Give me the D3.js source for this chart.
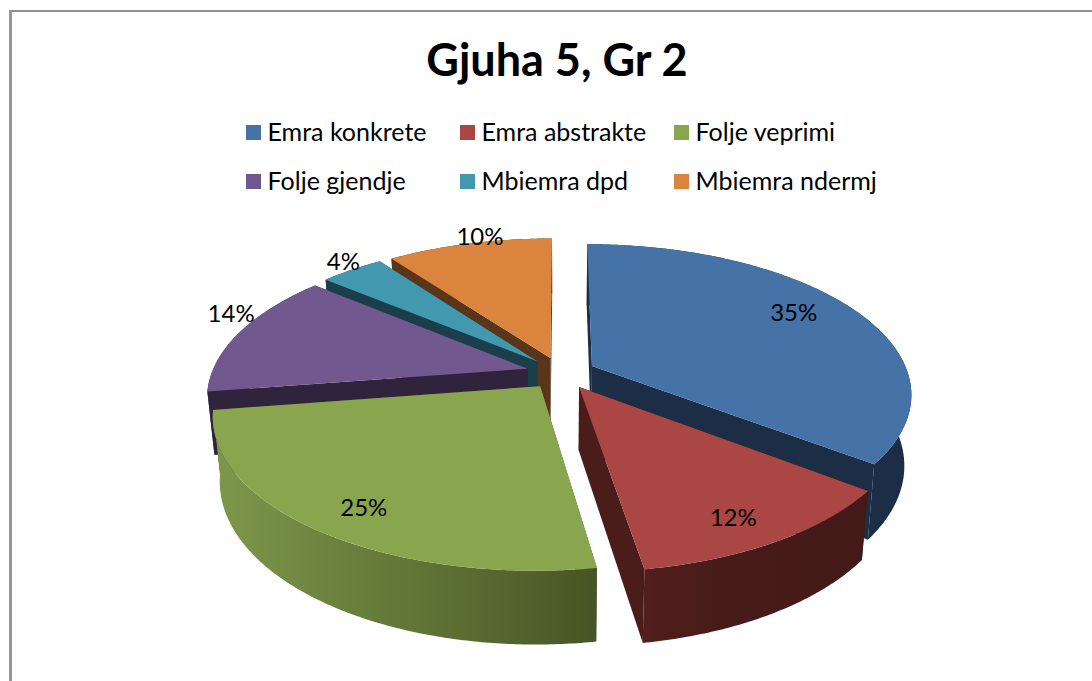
<!DOCTYPE html>
<html>
<head>
<meta charset="utf-8">
<script src="https://cdn.jsdelivr.net/npm/d3@7"></script>
<style>
html,body{margin:0;padding:0;background:#fff;overflow:hidden}
text{font-family:Lato,"Noto Sans",sans-serif;fill:#000}
</style>
</head>
<body>
<svg id="c" width="1092" height="681"></svg>
<script>
const titleText = "Gjuha 5, Gr 2";
const categories = ["Emra konkrete","Emra abstrakte","Folje veprimi","Folje gjendje","Mbiemra dpd","Mbiemra ndermj"];
const values = [35.45,12.05,25.05,13.55,3.85,10.05];

const topColors = ["#4572a7","#aa4643","#89a54e","#71588f","#4198af","#db843d"];
const wallColors = ["#1b2e46","#4a1c1a","#65793a","#2f243c","#1b3f4a","#5a351a"];
const drawOrder = [5,4,3,0,2,1];
const labelPlace = [[.78,-3,-8],[.82,-3,7],[.8,-2,10],[1.05,4.5,-17],[1.07,3,-4],[.95,7,-13]];
const depthExtra = [7,0,0,0,0,0];

const cx=561, cy=373, A=316, B=146, persp=.18, explode=.11, depth=62.5, floorScale=.98;

const svg = d3.select("#c");
const defs = svg.append("defs");

svg.append("path").attr("d","M1092,11H9").attr("fill","none").attr("stroke","#909090").attr("stroke-width",2);
svg.append("path").attr("d","M10.5,10V681").attr("fill","none").attr("stroke","#969696").attr("stroke-width",3);

const pie = d3.pie().value(d=>d).sort(null)(values);
const total = d3.sum(values);
const pct = d3.format(".0%");

function plane(d,r,theta){
  const b=(d.startAngle+d.endAngle)/2;
  return [explode*Math.sin(b)+r*Math.sin(theta), -explode*Math.cos(b)-r*Math.cos(theta)];
}
function topPt(d,r,theta){
  const [X,Z]=plane(d,r,theta), w=1-persp*Z;
  return [cx+A*X/w, cy+B*Z/w];
}
function botPt(d,r,theta){
  const [X,Z]=plane(d,r,theta), w=1-persp*Z;
  return [cx+floorScale*A*X/w, cy+(floorScale*B*Z+depth+depthExtra[d.index])/w];
}
const line = d3.line().curve(d3.curveLinearClosed);
function arcAngles(d){
  const n=Math.max(8,Math.ceil((d.endAngle-d.startAngle)/0.01));
  return d3.range(n+1).map(i=>d.startAngle+(d.endAngle-d.startAngle)*i/n);
}

const greenGrad = defs.append("linearGradient").attr("id","wallGreen")
  .attr("gradientUnits","userSpaceOnUse").attr("x1",218).attr("x2",597).attr("y1",0).attr("y2",0);
[[0,"#7d974a"],[.3,"#6c833f"],[.62,"#5c6f33"],[1,"#475426"]].forEach(s=>greenGrad.append("stop").attr("offset",s[0]).attr("stop-color",s[1]));
const redGrad = defs.append("linearGradient").attr("id","wallRed")
  .attr("gradientUnits","userSpaceOnUse").attr("x1",640).attr("x2",865).attr("y1",0).attr("y2",0);
[[0,"#511f1d"],[.4,"#471b19"],[1,"#431a18"]].forEach(s=>redGrad.append("stop").attr("offset",s[0]).attr("stop-color",s[1]));
const outerFill = i => i===2 ? "url(#wallGreen)" : i===1 ? "url(#wallRed)" : wallColors[i];
const sideFill = i => i===2 ? "#475426" : wallColors[i];

const slices = svg.append("g").selectAll("g").data(drawOrder).join("g");
slices.each(function(i){
  const g=d3.select(this), d=pie[i], ang=arcAngles(d);
  [d.startAngle,d.endAngle].forEach(t=>{
    g.append("path").attr("fill",sideFill(i)).attr("d",line([topPt(d,0,t),topPt(d,1,t),botPt(d,1,t),botPt(d,0,t)]));
  });
  const outer=ang.map(t=>topPt(d,1,t)).concat(ang.slice().reverse().map(t=>botPt(d,1,t)));
  g.append("path").attr("fill",outerFill(i)).attr("d",line(outer));
  g.append("path").attr("fill",topColors[i]).attr("d",line([topPt(d,0,d.startAngle)].concat(ang.map(t=>topPt(d,1,t)))));
});

svg.append("g").selectAll("text").data(pie).join("text")
  .attr("text-anchor","middle").attr("dominant-baseline","central").attr("font-size",24)
  .attr("x",(d,i)=>topPt(d,labelPlace[i][0],(d.startAngle+d.endAngle)/2)[0]+labelPlace[i][1])
  .attr("y",(d,i)=>topPt(d,labelPlace[i][0],(d.startAngle+d.endAngle)/2)[1]+labelPlace[i][2])
  .text(d=>pct(d.value/total));

svg.append("text").attr("x",557).attr("y",76).attr("text-anchor","middle")
  .attr("font-size",45).attr("font-weight",700).text(titleText);

const legendX = d3.scaleLinear().domain([0,2]).range([246,674]);
const legendY = d3.scaleLinear().domain([0,1]).range([132.5,181.5]);
const legend = svg.append("g").selectAll("g").data(categories).join("g")
  .attr("transform",(d,i)=>`translate(${legendX(i%3)},${legendY(Math.floor(i/3))})`);
legend.append("rect").attr("x",0).attr("y",-7.5).attr("width",15).attr("height",15).attr("fill",(d,i)=>topColors[i]);
legend.append("text").attr("x",21.5).attr("y",-1.5).attr("dominant-baseline","central").attr("font-size",25).text(d=>d);
</script>
</body>
</html>
